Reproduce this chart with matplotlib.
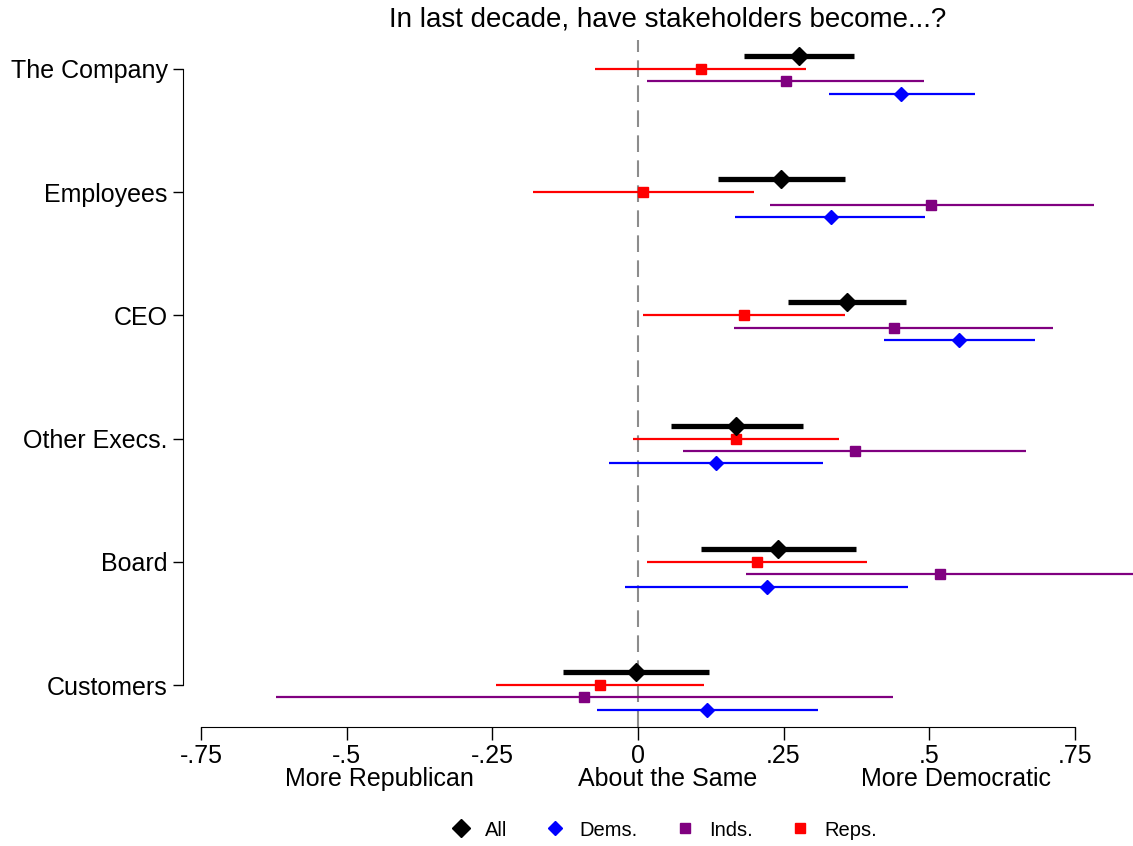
import matplotlib.pyplot as plt
from matplotlib.lines import Line2D

plt.rcParams["font.family"] = ["Liberation Sans", "DejaVu Sans"]

categories = ["The Company", "Employees", "CEO", "Other Execs.", "Board", "Customers"]

# point estimates and interval ends
all_pt = [0.276, 0.246, 0.359, 0.169, 0.241, -0.003]
all_lo = [0.182, 0.137, 0.258, 0.056, 0.108, -0.128]
all_hi = [0.371, 0.355, 0.460, 0.283, 0.374, 0.122]

dem_pt = [0.452, 0.331, 0.551, 0.134, 0.222, 0.118]
dem_lo = [0.328, 0.167, 0.423, -0.049, -0.022, -0.071]
dem_hi = [0.578, 0.493, 0.681, 0.318, 0.464, 0.309]

ind_pt = [0.254, 0.504, 0.439, 0.372, 0.518, -0.093]
ind_lo = [0.016, 0.227, 0.165, 0.078, 0.185, -0.622]
ind_hi = [0.491, 0.783, 0.713, 0.667, 0.870, 0.438]

rep_pt = [0.108, 0.009, 0.182, 0.168, 0.205, -0.065]
rep_lo = [-0.073, -0.180, 0.008, -0.008, 0.015, -0.244]
rep_hi = [0.289, 0.199, 0.356, 0.346, 0.394, 0.114]

xticks = [-0.75, -0.5, -0.25, 0, 0.25, 0.5, 0.75]
xticklabels = ["-.75", "-.5", "-.25", "0", ".25", ".5", ".75"]

series = [
    # label, pt, lo, hi, y offset, color, marker, markersize, linewidth
    ("Dems.", dem_pt, dem_lo, dem_hi, 0.2, "#0000ff", "D", 7, 1.6),
    ("Inds.", ind_pt, ind_lo, ind_hi, 0.1, "#800080", "s", 7, 1.6),
    ("Reps.", rep_pt, rep_lo, rep_hi, 0.0, "#ff0000", "s", 7, 1.6),
    ("All", all_pt, all_lo, all_hi, -0.105, "black", "D", 9.5, 3.8),
]

fig = plt.figure(figsize=(11.33, 8.46), dpi=100)
ax = fig.add_axes([183 / 1133, 1 - 727 / 846, 1 - 183 / 1133, (727 - 40) / 846])

ax.axvline(0, color="#8c8c8c", lw=1.5, ls=(0, (8, 4)), zorder=1)

for label, pt, lo, hi, off, color, marker, ms, lw in series:
    ys = [i + off for i in range(len(categories))]
    ax.hlines(ys, lo, hi, color=color, lw=lw, zorder=2)
    ax.plot(pt, ys, ls="none", marker=marker, ms=ms, color=color, zorder=3)

ax.set_ylim(5.34, -0.235)
ax.set_xlim(-0.781, 0.85)

ax.set_yticks(range(len(categories)))
ax.set_yticklabels(categories, fontsize=18)
ax.set_xticks(xticks)
ax.set_xticklabels(xticklabels, fontsize=18)
ax.tick_params(axis="y", length=7, width=1, pad=4)
ax.tick_params(axis="x", length=9, width=1, pad=3)

for s in ["top", "right"]:
    ax.spines[s].set_visible(False)
ax.spines["left"].set_bounds(0, len(categories) - 1)
ax.spines["bottom"].set_bounds(-0.75, 0.75)

fig.text(668 / 1133, 1 - 20 / 846, "In last decade, have stakeholders become...?",
         fontsize=20, ha="center", va="center")

for x, txt in [(-0.443, "More Republican"), (0.051, "About the Same"), (0.546, "More Democratic")]:
    ax.text(x, -0.075, txt, transform=ax.get_xaxis_transform(),
            fontsize=18, ha="center", va="center")

handles = [
    Line2D([], [], ls="none", marker="D", ms=9.5, color="black", label="All"),
    Line2D([], [], ls="none", marker="D", ms=7, color="#0000ff", label="Dems."),
    Line2D([], [], ls="none", marker="s", ms=7, color="#800080", label="Inds."),
    Line2D([], [], ls="none", marker="s", ms=7, color="#ff0000", label="Reps."),
]
fig.legend(handles=handles, loc="center", bbox_to_anchor=(0.585, 1 - 830 / 846),
           ncol=4, frameon=False, fontsize=14.5, handlelength=1.2, handletextpad=0.6,
           columnspacing=1.75)

fig.savefig("out.png", dpi=100)
